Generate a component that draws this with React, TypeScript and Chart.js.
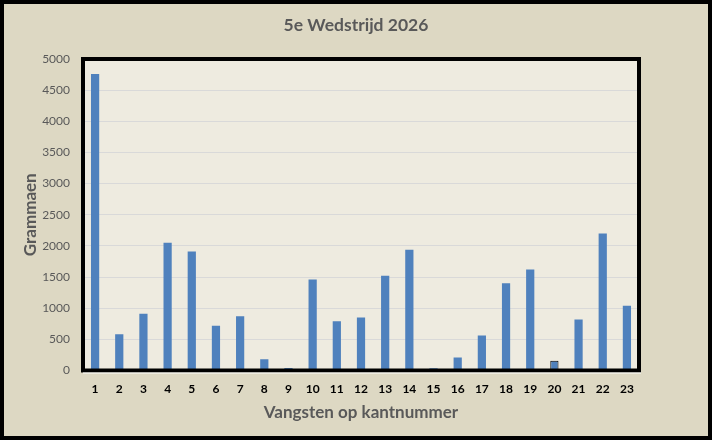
import React, { useEffect, useRef } from "react";
import { Chart, registerables } from "chart.js";

Chart.register(...registerables);

const categories: string[] = [
  "1", "2", "3", "4", "5", "6", "7", "8", "9", "10", "11", "12",
  "13", "14", "15", "16", "17", "18", "19", "20", "21", "22", "23",
];
const grams: number[] = [
  4760, 580, 910, 2050, 1910, 720, 870, 180, 40, 1460, 790, 850,
  1520, 1940, 35, 210, 560, 1400, 1620, 155, 820, 2200, 1040,
];
const highlighted: number[] = [20];
const yTicks: number[] = [0, 500, 1000, 1500, 2000, 2500, 3000, 3500, 4000, 4500, 5000];

const FONT = "Lato";
const GRAY = "#595959";

const framePlugin = {
  id: "frame",
  beforeDraw(chart: any) {
    const { ctx, width, height, chartArea } = chart;
    ctx.save();
    ctx.fillStyle = "#DDD8C3";
    ctx.fillRect(0, 0, width, height);
    ctx.fillStyle = "#EEEBE0";
    ctx.fillRect(chartArea.left, chartArea.top, chartArea.right - chartArea.left, chartArea.bottom - chartArea.top);
    ctx.restore();
  },
  afterDraw(chart: any) {
    const { ctx, width, height, chartArea } = chart;
    ctx.save();
    ctx.strokeStyle = "#000";
    ctx.lineWidth = 4;
    ctx.strokeRect(chartArea.left, chartArea.top, chartArea.right - chartArea.left, chartArea.bottom - chartArea.top);
    ctx.strokeStyle = "#FFFFFF";
    ctx.lineWidth = 1;
    ctx.beginPath();
    ctx.moveTo(chartArea.left, chartArea.bottom + 2.5);
    ctx.lineTo(chartArea.right + 2, chartArea.bottom + 2.5);
    ctx.stroke();
    ctx.strokeStyle = "#000";
    ctx.lineWidth = 4;
    ctx.strokeRect(2, 2, width - 4, height - 4);
    ctx.restore();
  },
};

export default function App() {
  const ref = useRef<HTMLCanvasElement | null>(null);

  useEffect(() => {
    if (!ref.current) return;
    const chart = new Chart(ref.current, {
      type: "bar",
      data: {
        labels: categories,
        datasets: [
          {
            data: grams,
            backgroundColor: "#4F81BD",
            borderColor: categories.map((c) => (highlighted.includes(Number(c)) ? "#000" : "rgba(0,0,0,0)")),
            borderWidth: categories.map((c) => (highlighted.includes(Number(c)) ? 1 : 0)),
            barPercentage: 0.34,
            categoryPercentage: 1,
          },
        ],
      },
      options: {
        animation: false,
        responsive: false,
        maintainAspectRatio: false,
        layout: { padding: { top: 0, left: 4, right: 4, bottom: 4 } },
        plugins: {
          legend: { display: false },
          tooltip: { enabled: false },
          title: {
            display: true,
            text: "5e Wedstrijd 2026",
            color: GRAY,
            font: { family: FONT, size: 17.5, weight: "bold" },
            padding: { top: 15, bottom: 23 },
          },
        },
        scales: {
          x: {
            grid: { display: false, drawTicks: false },
            border: { display: false },
            ticks: {
              color: "#000",
              font: { family: FONT, size: 12, weight: "bold" },
              padding: 11,
              maxRotation: 0,
            },
            title: {
              display: true,
              text: "Vangsten op kantnummer",
              color: GRAY,
              font: { family: FONT, size: 17, weight: "bold" },
              padding: { top: 0, bottom: 12.8 },
            },
            afterFit: (scale: any) => {
              scale.height = 65.5;
            },
          },
          y: {
            min: 0,
            max: 5000,
            afterBuildTicks: (scale: any) => {
              scale.ticks = yTicks.map((v) => ({ value: v }));
            },
            grid: { color: "#D9D9D9", lineWidth: 1, drawTicks: false },
            border: { display: false },
            ticks: {
              color: GRAY,
              font: { family: FONT, size: 12 },
              padding: 13,
              callback: (v: any) => String(v),
            },
            title: {
              display: true,
              text: "Grammaen",
              color: GRAY,
              font: { family: FONT, size: 17, weight: "bold" },
              padding: { top: 16, bottom: 0 },
            },
            afterFit: (scale: any) => {
              scale.width = 79;
            },
          },
          spacer: {
            type: "linear",
            position: "right",
            display: true,
            grid: { display: false, drawTicks: false },
            border: { display: false },
            ticks: { display: false },
            afterFit: (scale: any) => {
              scale.width = 69;
            },
          },
        },
      },
      plugins: [framePlugin],
    });
    return () => chart.destroy();
  }, []);

  return (
    <div style={{ position: "fixed", left: 0, top: 0, width: 712, height: 440 }}>
      <canvas ref={ref} width={712} height={440} style={{ width: 712, height: 440, display: "block" }} />
    </div>
  );
}
